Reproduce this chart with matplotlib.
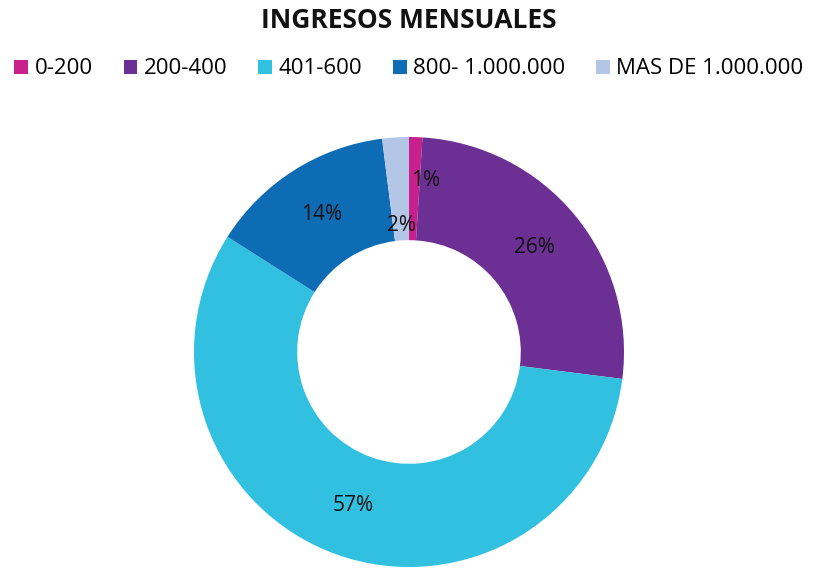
import matplotlib.pyplot as plt
import numpy as np

# Datos del grafico
categorias = ["0-200", "200-400", "401-600", "800- 1.000.000", "MAS DE 1.000.000"]
porcentajes = [1, 26, 57, 14, 2]
colores = ["#C8208D", "#6C2F93", "#31C0DF", "#0E6CB4", "#B4C6E6"]

# radio de cada etiqueta (Excel mueve las pequenas)
radio_etiqueta = [0.80, 0.76, 0.76, 0.76, 0.59]

plt.rcParams['font.family'] = ['Open Sans', 'DejaVu Sans']

fig = plt.figure(figsize=(8.23, 5.68), dpi=100)
ax = fig.add_axes([194 / 823, 1 / 568, 430 / 823, 430 / 568])

wedges, _ = ax.pie(
    porcentajes,
    colors=colores,
    startangle=90,
    counterclock=False,
    radius=1.0,
    wedgeprops=dict(width=0.48, edgecolor="none"),
)

# etiquetas de porcentaje
for i, (w, p, r) in enumerate(zip(wedges, porcentajes, radio_etiqueta)):
    ang = np.deg2rad((w.theta1 + w.theta2) / 2)
    dx = 0.05 if i == 0 else 0.0
    ax.text(r * np.cos(ang) + dx, r * np.sin(ang), f"{p}%",
            ha="center", va="center", fontsize=15, color="#111111")

ax.set_xlim(-1, 1)
ax.set_ylim(-1, 1)
ax.set_aspect("equal")
ax.axis("off")

fig.text(0.497, 1 - 20 / 568, "INGRESOS MENSUALES", ha="center", va="center",
         fontsize=19, fontweight="bold", color="#111111")

fig.legend(wedges, categorias, loc="center", bbox_to_anchor=(0.497, 1 - 69 / 568),
           ncol=5, frameon=False, fontsize=16, handlelength=0.6, handleheight=0.6,
           handletextpad=0.3, columnspacing=1.4)

fig.savefig("out.png", dpi=100)
